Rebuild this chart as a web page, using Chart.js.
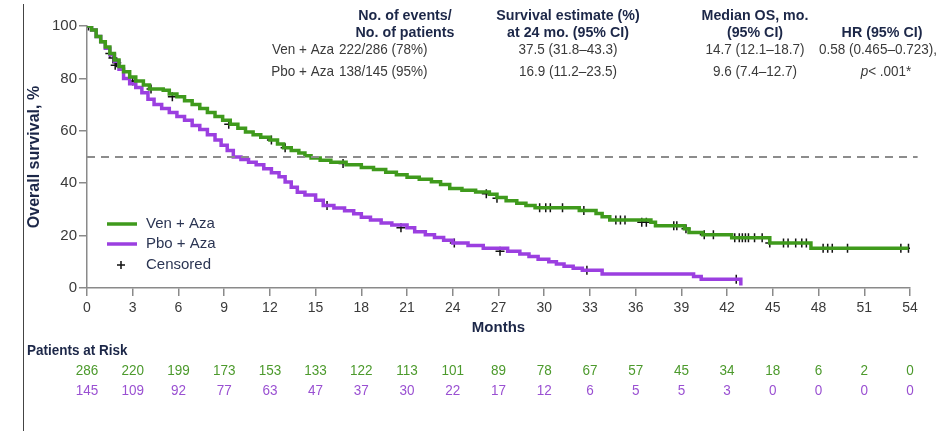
<!DOCTYPE html>
<html>
<head>
<meta charset="utf-8">
<script src="https://cdn.jsdelivr.net/npm/chart.js@4.4.1/dist/chart.umd.min.js"></script>
<style>
  html, body { margin: 0; padding: 0; background: #fff; }
  #wrap { position: relative; width: 946px; height: 431px; }
</style>
</head>
<body>
<div id="wrap"><canvas id="km" width="946" height="431"></canvas></div>
<script>
// ============================================================
// DATA — Kaplan-Meier steps [month, survival %]
// ============================================================
const venSteps = [
  [0, 100], [0.3, 98.5], [0.6, 96], [0.9, 94], [1.2, 92], [1.5, 89.5], [1.8, 87], [2.1, 84.5],
  [2.4, 82.5], [2.8, 80.5], [3.2, 79], [3.7, 77.5], [4.1, 76], [5.0, 75.5], [5.4, 74], [5.9, 73],
  [6.4, 71.5], [6.9, 70], [7.4, 68.5], [7.9, 67], [8.4, 65.5], [8.9, 64], [9.4, 62.5], [9.9, 61],
  [10.4, 59.5], [10.9, 58.5], [11.4, 57.5], [12.0, 56.5], [12.5, 55], [12.9, 53.5], [13.4, 52.5],
  [13.9, 51.5], [14.3, 50.5], [14.7, 49.6], [15.3, 48.8], [16.0, 48], [17.0, 47], [18.0, 46],
  [18.8, 45.2], [19.6, 44.2], [20.3, 43.2], [21.0, 42.3], [21.8, 41.5], [22.6, 40.6], [23.2, 39.5],
  [23.8, 38], [24.6, 37.3], [25.5, 36.6], [26.4, 35.8], [26.9, 34.5], [27.5, 33.3], [28.2, 32.3],
  [28.8, 31.5], [29.4, 30.6], [32.3, 29.6], [33.4, 28.4], [33.8, 27.2], [34.3, 26], [37.0, 25.1],
  [37.3, 23.8], [39.2, 22.6], [39.5, 21.2], [40.4, 20.3], [42.3, 19.2], [44.8, 17.2], [47.5, 15.2],
  [53.9, 15.2]
];
const pboSteps = [
  [0, 100], [0.3, 98.5], [0.6, 96], [0.9, 94], [1.2, 91.5], [1.5, 89], [1.8, 86.5], [2.1, 83.5],
  [2.4, 80], [2.8, 78], [3.2, 76.5], [3.6, 74.5], [4.0, 72], [4.4, 70], [4.9, 68.5], [5.4, 67],
  [5.9, 65.5], [6.4, 64], [6.9, 62], [7.4, 60.5], [7.9, 58.5], [8.4, 56.5], [8.8, 54.5], [9.2, 52.5],
  [9.6, 50], [10.1, 49], [10.6, 48], [11.1, 47], [11.6, 45.5], [12.1, 44], [12.6, 42.5], [13.0, 40.5],
  [13.4, 38.5], [13.8, 36.5], [14.3, 35.5], [15.0, 33.5], [15.5, 31.5], [16.2, 30.5], [16.9, 29.5],
  [17.5, 28.3], [18.0, 27], [18.6, 26], [19.3, 24.8], [20.0, 24], [21.0, 23], [21.5, 21.5],
  [22.2, 20.3], [22.8, 19.3], [23.4, 18.2], [24.0, 17.2], [25.0, 16.2], [26.0, 15.2], [27.6, 14],
  [28.4, 13], [29.0, 12], [29.6, 11], [30.3, 10], [30.8, 9.2], [31.3, 8.3], [31.9, 7.5], [32.5, 6.8],
  [33.8, 5.3], [39.8, 4.4], [40.3, 3.3], [42.7, 3.3], [42.9, 1.0]
];
const venCensored = [
  [0.1, 100], [1.5, 89.5], [1.7, 87.8], [1.85, 85], [1.95, 86], [3.0, 79], [4.2, 76], [5.6, 73],
  [9.3, 62.5], [12.1, 56.5], [13.0, 53.5], [16.8, 47.5], [26.2, 36], [26.9, 34.3], [29.7, 30.6],
  [30.1, 30.6], [30.4, 30.6], [31.2, 30.6], [32.6, 29.6], [34.7, 26], [35.0, 26], [35.3, 26],
  [36.4, 25.1], [36.7, 25.1], [38.5, 23.8], [38.7, 23.8], [39.3, 22.6], [40.5, 20.3], [41.1, 20.3],
  [42.5, 19.2], [42.8, 19.2], [43.0, 19.2], [43.2, 19.2], [43.4, 19.2], [43.8, 19.2], [44.3, 19.2],
  [44.8, 17.2], [45.7, 17.2], [46.0, 17.2], [46.5, 17.2], [46.9, 17.2], [47.2, 17.2], [48.3, 15.2],
  [48.6, 15.2], [48.9, 15.2], [49.9, 15.2], [53.4, 15.2], [53.9, 15.2]
];
const pboCensored = [[15.75, 31.5], [20.6, 23], [24.1, 17.2], [27.1, 14], [32.8, 6.8], [42.6, 3.3]];

// Patients at risk
const riskMonths = [0, 3, 6, 9, 12, 15, 18, 21, 24, 27, 30, 33, 36, 39, 42, 45, 48, 51, 54];
const riskVen = [286, 220, 199, 173, 153, 133, 122, 113, 101, 89, 78, 67, 57, 45, 34, 18, 6, 2, 0];
const riskPbo = [145, 109, 92, 77, 63, 47, 37, 30, 22, 17, 12, 6, 5, 5, 3, 0, 0, 0, 0];

// Header table
const headerCols = [
  ['No. of events/', 'No. of patients'],
  ['Survival estimate (%)', 'at 24 mo. (95% CI)'],
  ['Median OS, mo.', '(95% CI)'],
  ['', 'HR (95% CI)']
];
const venRow = ['Ven + Aza', '222/286 (78%)', '37.5 (31.8\u201343.3)', '14.7 (12.1\u201318.7)', '0.58 (0.465\u20130.723),'];
const pboRow = ['Pbo + Aza', '138/145 (95%)', '16.9 (11.2\u201323.5)', '9.6 (7.4\u201312.7)', '< .001*'];

const medianLine = 50;

// ============================================================
const green = '#3f9a1c';
const purple = '#9b3fe0';
const greenText = '#4c9a2c';
const purpleText = '#9a50d2';
const navy = '#1c2748';
const axisGray = '#8a8a8a';
const textGray = '#3a3a3a';
const sans = "'Liberation Sans', Arial, sans-serif";

const toXY = (arr) => arr.map(([x, y]) => ({ x, y }));

// slightly condensed text, like the source figure
function squeezed(ctx, text, x, y, align, k = 0.9) {
  ctx.save();
  ctx.translate(x, y);
  ctx.scale(k, 1);
  ctx.textAlign = align;
  ctx.fillText(text, 0, 0);
  ctx.restore();
}

// Header, legend, at-risk table and frame line
const annotations = {
  id: 'annotations',
  afterDraw(chart) {
    const { ctx, scales: { x } } = chart;
    ctx.save();

    // thin frame line on the left
    ctx.strokeStyle = '#444';
    ctx.lineWidth = 1;
    ctx.beginPath();
    ctx.moveTo(23.5, 4);
    ctx.lineTo(23.5, 431);
    ctx.stroke();

    // header table
    const colX = [405, 568, 755, 882];
    ctx.textBaseline = 'middle';
    ctx.fillStyle = navy;
    ctx.font = 'bold 15px ' + sans;
    headerCols.forEach((lines, i) => {
      squeezed(ctx, lines[0], colX[i], 16, 'center', 0.95);
      squeezed(ctx, lines[1], colX[i], 33, 'center', 0.95);
    });
    ctx.font = '15px ' + sans;
    ctx.fillStyle = textGray;
    [[venRow, 50], [pboRow, 72]].forEach(([row, y]) => {
      squeezed(ctx, row[0], 334, y, 'right');
      squeezed(ctx, row[1], 339, y, 'left');
      squeezed(ctx, row[2], colX[1], y, 'center');
      squeezed(ctx, row[3], colX[2], y, 'center');
    });
    squeezed(ctx, venRow[4], colX[3] - 4, 50, 'center');
    // p value with italic p
    ctx.font = 'italic 15px ' + sans;
    const pW = ctx.measureText('p').width * 0.9;
    ctx.font = '15px ' + sans;
    const restW = ctx.measureText(pboRow[4]).width * 0.9;
    const px0 = colX[3] + 4 - (pW + restW) / 2;
    ctx.font = 'italic 15px ' + sans;
    squeezed(ctx, 'p', px0, 72, 'left');
    ctx.font = '15px ' + sans;
    squeezed(ctx, pboRow[4], px0 + pW, 72, 'left');

    // legend
    ctx.lineWidth = 3.5;
    ctx.strokeStyle = green;
    ctx.beginPath(); ctx.moveTo(107, 224); ctx.lineTo(137, 224); ctx.stroke();
    ctx.strokeStyle = purple;
    ctx.beginPath(); ctx.moveTo(107, 244); ctx.lineTo(137, 244); ctx.stroke();
    ctx.strokeStyle = '#111';
    ctx.lineWidth = 1.5;
    ctx.beginPath();
    ctx.moveTo(117, 265); ctx.lineTo(125, 265);
    ctx.moveTo(121, 261); ctx.lineTo(121, 269);
    ctx.stroke();
    ctx.fillStyle = '#2b3553';
    ctx.font = '15px ' + sans;
    ctx.textAlign = 'left';
    ctx.fillText('Ven + Aza', 146, 224);
    ctx.fillText('Pbo + Aza', 146, 244);
    ctx.fillText('Censored', 146, 265);

    // patients at risk
    ctx.fillStyle = navy;
    ctx.font = 'bold 15px ' + sans;
    squeezed(ctx, 'Patients at Risk', 27, 351, 'left');
    ctx.font = '15px ' + sans;
    riskMonths.forEach((m, i) => {
      const px = x.getPixelForValue(m);
      ctx.fillStyle = greenText;
      squeezed(ctx, String(riskVen[i]), px, 371, 'center');
      ctx.fillStyle = purpleText;
      squeezed(ctx, String(riskPbo[i]), px, 391, 'center');
    });
    ctx.restore();
  }
};

new Chart(document.getElementById('km'), {
  type: 'line',
  data: {
    datasets: [
      {
        data: [{ x: 0, y: medianLine }, { x: 54.5, y: medianLine }],
        borderColor: '#8c8c8c',
        borderWidth: 1.8,
        borderDash: [8, 6],
        pointRadius: 0,
        clip: false
      },
      {
        label: 'Ven + Aza',
        data: toXY(venSteps),
        borderColor: green,
        borderWidth: 3.5,
        stepped: true,
        pointRadius: 0
      },
      {
        label: 'Pbo + Aza',
        data: toXY(pboSteps),
        borderColor: purple,
        borderWidth: 3.5,
        stepped: true,
        pointRadius: 0
      },
      {
        type: 'scatter',
        data: toXY(venCensored),
        pointStyle: 'cross',
        pointRadius: 4.5,
        borderColor: '#111',
        borderWidth: 1.5
      },
      {
        type: 'scatter',
        data: toXY(pboCensored),
        pointStyle: 'cross',
        pointRadius: 4.5,
        borderColor: '#111',
        borderWidth: 1.5
      }
    ]
  },
  options: {
    responsive: false,
    animation: false,
    events: [],
    layout: { padding: { left: 0, right: 36, top: 26, bottom: 0 } },
    plugins: { legend: { display: false }, tooltip: { enabled: false } },
    scales: {
      x: {
        type: 'linear',
        min: 0,
        max: 54,
        afterFit: (s) => { s.height = 143; },
        ticks: { stepSize: 3, color: textGray, font: { size: 14, family: sans }, padding: 4 },
        grid: { drawOnChartArea: false, tickLength: 8, color: axisGray, lineWidth: 1.5 },
        border: { color: axisGray, width: 1.5 },
        title: {
          display: true, text: 'Months', color: navy,
          font: { size: 15, weight: 'bold', family: sans },
          padding: { top: 0, bottom: 94 }
        }
      },
      y: {
        min: 0,
        max: 100,
        afterFit: (s) => { s.width = 87; },
        ticks: { stepSize: 20, color: textGray, font: { size: 15, family: sans }, padding: 2 },
        grid: { drawOnChartArea: false, tickLength: 8, color: axisGray, lineWidth: 1.5 },
        border: { color: axisGray, width: 1.5 },
        title: {
          display: true, text: 'Overall survival, %', color: navy,
          font: { size: 16, weight: 'bold', family: sans },
          padding: { top: 25, bottom: 0 }
        }
      }
    }
  },
  plugins: [annotations]
});
</script>
</body>
</html>
